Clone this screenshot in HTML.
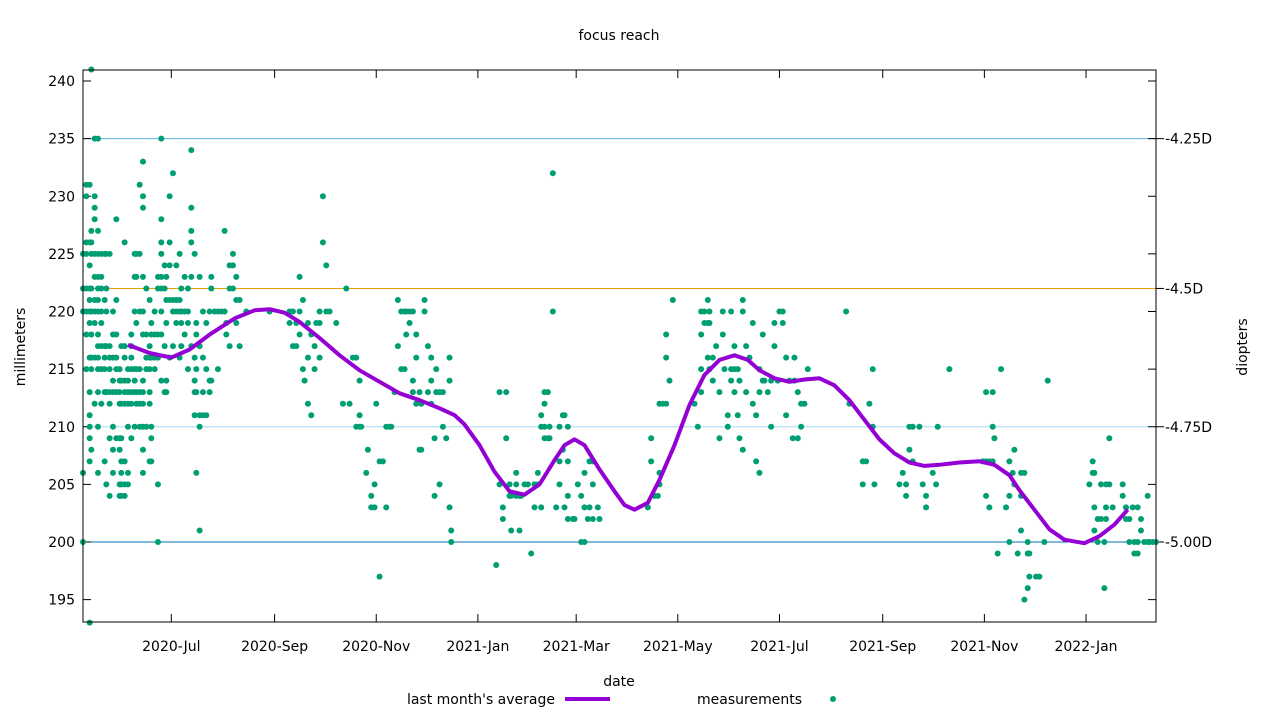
<!DOCTYPE html>
<html><head><meta charset="utf-8"><title>focus reach</title>
<style>
html,body{margin:0;padding:0;background:#fff;}
svg{display:block;font-family:"DejaVu Sans","Liberation Sans",sans-serif;font-size:14px;}
</style></head>
<body>
<svg id="chart" width="1280" height="720" viewBox="0 0 1280 720" xmlns="http://www.w3.org/2000/svg">
<rect width="1280" height="720" fill="#fff"/>
<text x="619" y="40" text-anchor="middle">focus reach</text>
<text x="619" y="686" text-anchor="middle">date</text>
<text transform="translate(25,347) rotate(-90)" text-anchor="middle">millimeters</text>
<text transform="translate(1247,347) rotate(-90)" text-anchor="middle">diopters</text>
<g id="grid"></g>
<g id="axes"></g>
<g id="series"></g>
<rect x="83" y="70" width="1073" height="552" fill="none" stroke="#000" stroke-width="1"/>
<g>
<text x="555" y="704" text-anchor="end">last month's average</text>
<line x1="565" y1="699" x2="610" y2="699" stroke="#9400d3" stroke-width="4"/>
<text x="802" y="704" text-anchor="end">measurements</text>
<circle cx="833" cy="699" r="3" fill="#009e73"/>
</g>
</svg>
<script>
// ---- data ----
const xTickDays = [53,115,176,237,296,357,418,480,541,602];
const xTickLabels = ["2020-Jul","2020-Sep","2020-Nov","2021-Jan","2021-Mar","2021-May","2021-Jul","2021-Sep","2021-Nov","2022-Jan"];
const yTicks = [195,200,205,210,215,220,225,230,235,240];
const diopterMm = [235,222,210,200];
const diopterLabels = ["-4.25D","-4.5D","-4.75D","-5.00D"];
const avgDays = [27,40,53,64,76,91,103,112,121,130,142,154,166,178,190,202,214,223,229,238,247,256,265,274,283,289,295,301,310,319,325,331,339,346,355,364,373,382,391,399,406,415,424,433,442,451,460,469,478,487,496,505,514,526,538,547,556,562,571,580,589,601,610,619,627];
const avgMm = [217.1,216.4,216.0,216.7,218.0,219.4,220.1,220.2,219.9,219.1,217.7,216.2,214.9,213.9,212.9,212.3,211.6,211.0,210.2,208.4,206.1,204.4,204.1,205.0,207.1,208.4,208.9,208.4,206.3,204.4,203.2,202.8,203.4,205.4,208.4,211.9,214.5,215.8,216.2,215.8,214.9,214.2,213.9,214.1,214.2,213.6,212.3,210.6,208.9,207.7,206.9,206.6,206.7,206.9,207.0,206.7,205.8,204.5,202.8,201.1,200.2,199.9,200.5,201.5,202.8];
const measDays = [0,2,4,5,7,9,11,13,14,16,18,20,22,23,25,27,29,31,32,34,36,38,40,41,43,45,47,49,50,52,54,56,58,59,61,63,65,67,68,70,72,74,76,77,79,81,83,85,86,88,90,92,94,98,112,124,126,128,130,132,133,135,137,139,140,142,144,146,148,152,156,158,160,162,164,166,167,170,171,173,175,176,178,180,182,184,185,187,189,191,193,194,196,198,200,202,203,205,207,209,211,212,214,216,218,220,221,248,250,252,254,256,257,260,262,263,265,267,269,271,273,275,277,279,280,282,284,286,288,289,291,294,295,297,299,301,303,304,306,309,310,339,341,343,345,346,348,350,352,354,367,369,371,373,375,376,378,380,382,384,385,387,389,391,393,394,396,398,400,402,404,406,408,409,411,413,415,417,418,420,422,424,426,427,429,431,433,435,458,460,468,470,472,474,475,490,492,494,496,498,502,504,506,510,512,513,520,540,542,544,546,547,549,551,554,556,558,559,561,563,565,567,568,572,574,577,579,604,606,607,609,611,613,614,616,618,624,626,628,630,631,633,635,637,639,640,642,644];
const measMm = [
[200,206,220,222,225],[215,218,220,222,225,226,230,231],[210,211,213,216,219,220,221,222,224,226,231,193,207,209],[208,215,216,218,220,222,225,226,227,241],[212,216,219,220,221,223,225,228,229,230,235],[206,210,213,215,216,217,218,220,221,222,223,225,227,235],[212,215,217,219,220,222,223,225],[207,213,215,216,217,221,225],[205,213,217,220,222,225],[204,209,212,213,215,216,217,225],[206,208,210,213,214,216,218,220],[209,213,215,216,218,221,228],[204,205,208,209,212,213,214,215],[204,205,206,207,209,212,214,217],[204,205,207,212,213,214,216,217,226],[205,206,210,212,213,214,215],[209,212,213,215,216,217,218],[210,213,214,215,220,223,225],[212,213,215,219,223,225],[210,212,213,215,220,225,231],[206,208,210,212,213,214,218,220,223,229,230,233],[210,215,216,218,222],[207,212,213,215,216,217,221],[207,209,210,216,218,219],[215,216,218,220],[200,205,216,218,222,223],[214,218,220,222,223,225,226,228,235],[213,217,222,224],[213,214,219,221,223],[216,221,224,226,230],[217,220,221,232],[219,220,221,224],[216,220,221,225],[217,219,220,222],[218,220,223],[215,219,220,222],[217,223,226,227,234,229],[211,213,214,216,225],[206,213,215,218,219],[201,210,211,217,223],[211,213,216,220],[211,215,219],[213,214,220],[214,222,223],[220],[215,220],[220],[220,227],[218,219],[217,222,224],[222,224,225],[219,221,223],[217,221],[220],[220],
[220,219],[217,220],[217,219],[218,220,223],[215,221],[214],[212,216,219],[211,218],[215,217],[219],[216,219,220],[230,226],[224,220],[220],[219],[212],[222],[212],[216],[210,216],[211,214,210],[210],[206],[208],[203,204],[205,203],[212],[197,207],[207],[210,203],[210],[210],[213],[217,221],[215,220],[215,220],[218,220],[219,220],[220,214,213],[218,216,212],[208,213],[208,212],[220,221],[217,213],[212,214,216],[204,209],[213,215],[205,213],[213,210],[209],[214,216,203],[200,201],
[198],[205,213],[203,202],[209,213],[205,204],[204,201],[204,206,205],[201,204],[204],[205],[205],[199],[205,203],[205,206],[210,211,203],[209,210,212,213],[209,213],[210,209],[220,232],[203],[210,207,205],[211,208],[203,211],[210,207,204,202],[202],[202],[205],[200,204],[200,206,203],[202],[207,203],[205,207,202],[203],[202],
[203],[209,207],[204],[204],[206,205,212],[212],[218,216,212],[214],[221],[212],[210],[218,220,213,215],[219,220],[221,219,216],[220,219,215],[216,214],[217],[213,209],[218,220],[215],[210,211],[214,220,215],[217,215,213],[215,211],[214,209],[221,220,208],[217,213],[216],[219,212],[207,211],[215,213,206],[218,214],[214],[213],[210,214],[217,219],[214],[220],[219,220],[211,216],[214],[209],[216,214],[209,213],[212,210],[212],[215],
[220],[212],[205,207],[207],[212],[210,215],[205],[205],[206],[205,204],[210,208],[207,210],[210],[205],[204,203],[206],[205],[210],[215],
[207],[213,207,204],[207,203],[210,213,207],[209],[199],[215],[203],[200,207,204],[206],[208,205],[199],[206,204,201],[206,195],[200,199,196],[199,197],[197],[197],[200],[214],
[205],[206,207],[203,201,206],[202,200],[205,202],[200,196],[203,205,202],[209,205],[203],[204,205],[202,203],[200,202],[203],[200,199],[199,203,200],[201,202],[200],[200,204],[200],[200],[200]
];
// ---- scales ----
const X0=83, X1=1156, Y0=70, Y1=622, DAYS=644;
const xs = d => X0 + d*(X1-X0)/DAYS;
const ys = v => 542 - (v-200)*(542-81)/40;
const NS="http://www.w3.org/2000/svg";
function mk(tag, attrs, parent){const e=document.createElementNS(NS,tag);for(const k in attrs)e.setAttribute(k,attrs[k]);parent.appendChild(e);return e;}
const grid=document.getElementById('grid'), axes=document.getElementById('axes'), series=document.getElementById('series');
const refMm=[235,222,210,200], refCol=["#56b4e9","#e6a000","#a8d8f0","#0072b2"];
refMm.forEach((m,i)=>{
  const l=mk('line',{x1:X0,x2:X1,y1:ys(m),y2:ys(m),stroke:refCol[i],'stroke-width':1},grid);
  
  
});
yTicks.forEach(v=>{
  const y=ys(v);
  mk('line',{x1:X0,x2:X0+8,y1:y,y2:y,stroke:'#000'},axes);
  mk('line',{x1:X1-8,x2:X1,y1:y,y2:y,stroke:'#000'},axes);
  const t=mk('text',{x:X0-8,y:y+5,'text-anchor':'end'},axes);
  t.textContent=v;
  
  
});
diopterMm.forEach((m,i)=>{
  const y=ys(m);
  mk('line',{x1:X1,x2:X1+8,y1:y,y2:y,stroke:'#000'},axes);
  const t=mk('text',{x:X1+9,y:y+5,'text-anchor':'start'},axes);
  t.textContent=diopterLabels[i];
  
  
});
xTickDays.forEach((d,i)=>{
  const x=xs(d);
  mk('line',{x1:x,x2:x,y1:Y1,y2:Y1-8,stroke:'#000'},axes);
  mk('line',{x1:x,x2:x,y1:Y0,y2:Y0+8,stroke:'#000'},axes);
  const t=mk('text',{x:x,y:Y1+29,'text-anchor':'middle'},axes);
  t.textContent=xTickLabels[i];
  
  
});
measDays.forEach((d,i)=>{
  (measMm[i]||[]).forEach(v=>{
    const c=mk('circle',{cx:xs(d),cy:ys(v),r:3,fill:'#009e73'},series);
    
    
  });
});
const pts=avgDays.map((d,i)=>xs(d).toFixed(1)+','+ys(avgMm[i]).toFixed(1)).join(' ');
const pl=mk('polyline',{points:pts,fill:'none',stroke:'#9400d3','stroke-width':4,'stroke-linejoin':'round'},series);


</script>
</body></html>
